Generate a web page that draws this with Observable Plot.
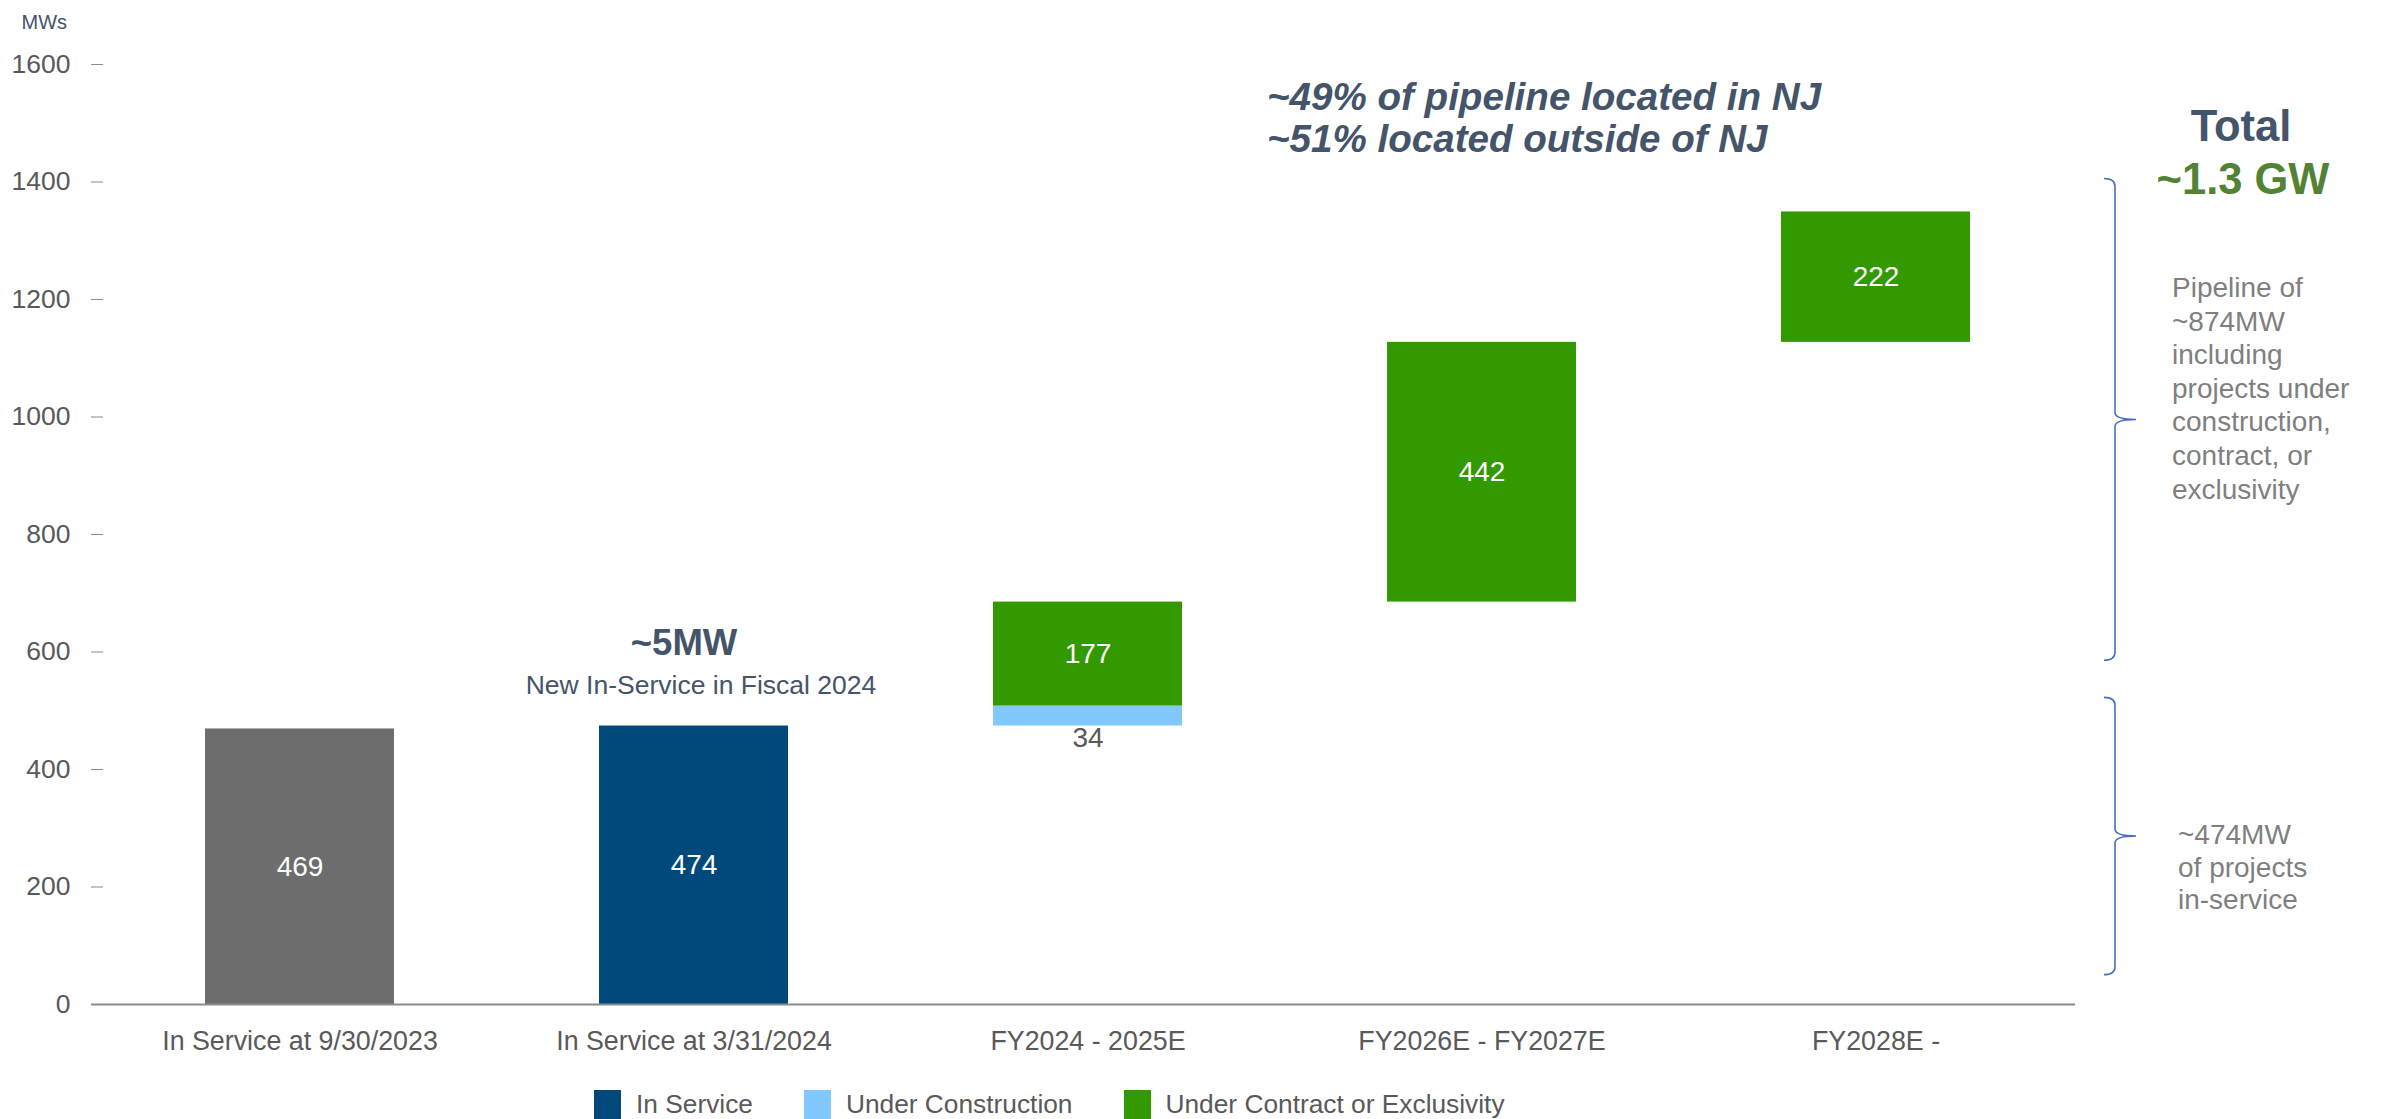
<!DOCTYPE html>
<html>
<head>
<meta charset="utf-8">
<script src="https://cdn.jsdelivr.net/npm/d3@7"></script>
<script src="https://cdn.jsdelivr.net/npm/@observablehq/plot@0.6"></script>
<style>
  body { margin: 0; background: #fff; font-family: "Liberation Sans", Arial, sans-serif; }
  #wrap { position: relative; width: 2382px; height: 1119px; overflow: hidden; background: #fff; }
  #chart svg [aria-label="y-axis tick"] { stroke: #8c8c8c; }
  #legend { position: absolute; left: 594px; top: 1089px; display: flex; align-items: center;
            font-size: 26.3px; color: #595959; white-space: nowrap; }
  #legend .item { display: flex; align-items: center; margin-right: 51px; }
  #legend .sw { width: 27px; height: 30px; margin-right: 15px; }
</style>
</head>
<body>
<div id="wrap">
  <div id="chart"></div>
  <div id="legend"></div>
</div>
<script>
// ---------- data ----------
const categories = ["In Service at 9/30/2023", "In Service at 3/31/2024", "FY2024 - 2025E", "FY2026E - FY2027E", "FY2028E -"];
const priorInService    = [469, 0, 0, 0, 0];
const inService         = [0, 474, 0, 0, 0];
const underConstruction = [0, 0, 34, 0, 0];
const underContract     = [0, 0, 177, 442, 222];
const seriesNames  = ["In Service (prior)", "In Service", "Under Construction", "Under Contract or Exclusivity"];
const seriesColors = ["#6d6d6d", "#02497b", "#80c8ff", "#339900"];
const legendNames  = ["In Service", "Under Construction", "Under Contract or Exclusivity"];
const yTicks = [0, 200, 400, 600, 800, 1000, 1200, 1400, 1600];
const noteLines = ["~49% of pipeline located in NJ", "~51% located outside of NJ"];
const newInServiceText = "New In-Service in Fiscal 2024";
const totalLines = ["Total", "~1.3 GW"];
const pipelineNote = ["Pipeline of", "~874MW", "including", "projects under", "construction,", "contract, or", "exclusivity"];
const inServiceNote = ["~474MW", "of projects", "in-service"];
const brackets = [{lo: 585, hi: 1405}, {lo: 50, hi: 522}];

// ---------- waterfall segments ----------
const segs = [];
let running = 0;
categories.forEach((c, i) => {
  const vals = [priorInService[i], inService[i], underConstruction[i], underContract[i]];
  let base = (vals[0] || vals[1]) ? 0 : running;
  vals.forEach((v, k) => {
    if (v > 0) { segs.push({cat: c, series: seriesNames[k], y1: base, y2: base + v, value: v}); base += v; }
  });
  running = base;
});
const inside = segs.filter(d => d.series !== "Under Construction");
const below = segs.filter(d => d.series === "Under Construction");
const newMW = inService[1] - priorInService[0];

const slate = "#44546a";

const bracketMark = (index, scales, values, dims) => {
  const g = d3.create("svg:g");
  const xr = dims.width - dims.marginRight;
  const xv = xr + 40, xs = xr + 29, xp = xr + 61;
  for (const b of brackets) {
    const t = scales.y(b.hi), bt = scales.y(b.lo), m = (t + bt) / 2;
    const p = d3.path();
    p.moveTo(xs, t);
    p.quadraticCurveTo(xv, t, xv, t + 8);
    p.lineTo(xv, m - 7);
    p.quadraticCurveTo(xv, m, xp, m);
    p.quadraticCurveTo(xv, m, xv, m + 7);
    p.lineTo(xv, bt - 8);
    p.quadraticCurveTo(xv, bt, xs, bt);
    g.append("path").attr("d", p.toString()).attr("fill", "none")
      .attr("stroke", "#4a6ebd").attr("stroke-width", 1.6);
  }
  return g.node();
};

const chart = Plot.plot({
  width: 2382,
  height: 1080,
  marginLeft: 91,
  marginRight: 307,
  marginTop: 64,
  marginBottom: 76,
  style: {fontFamily: '"Liberation Sans", Arial, sans-serif', fontSize: "26px", background: "#fff"},
  x: {type: "band", domain: categories, paddingInner: 0.52, paddingOuter: 0.276, align: 0.523, label: null},
  y: {domain: [0, 1600], label: null},
  color: {domain: seriesNames, range: seriesColors},
  marks: [
    Plot.axisY({ticks: yTicks, tickSize: -12, tickPadding: 33, tickFormat: d => String(d), color: "#595959", fontSize: 26.5, label: null}),
    Plot.axisX({tickSize: 0, tickPadding: 26, color: "#595959", fontSize: 26.8, label: null}),
    Plot.barY(segs, {x: "cat", y1: "y1", y2: "y2", fill: "series"}),
    Plot.ruleY([0], {stroke: "#8c8c8c", strokeWidth: 2}),
    Plot.text(inside, {x: "cat", y: d => (d.y1 + d.y2) / 2, text: d => String(d.value), fill: "white", fontSize: 28}),
    Plot.text(below, {x: "cat", y: "y1", text: d => String(d.value), lineAnchor: "top", dy: 1, fill: "#595959", fontSize: 28}),
    Plot.text(["MWs"], {frameAnchor: "top-left", dx: -70, dy: -50, textAnchor: "start", fill: slate, fontSize: 20}),
    Plot.text([{t: `~${newMW}MW`, x: categories[1], y: 614}], {x: "x", y: "y", text: "t", dx: -10, fontSize: 36.5, fontWeight: "bold", fill: slate}),
    Plot.text([{t: newInServiceText, x: categories[1], y: 543}], {x: "x", y: "y", text: "t", dx: 7, fontSize: 26.5, fill: slate}),
    Plot.text([{t: noteLines.join("\n"), x: categories[3], y: 1510}], {x: "x", y: "y", text: "t", dx: -215, textAnchor: "start", lineHeight: 1.1, fontSize: 38.6, fontWeight: "bold", fontStyle: "italic", fill: slate}),
    Plot.text([{t: totalLines[0], x: categories[4], y: 1494}], {x: "x", y: "y", text: "t", dx: 365, fontSize: 43.5, fontWeight: "bold", fill: slate}),
    Plot.text([{t: totalLines[1], x: categories[4], y: 1404}], {x: "x", y: "y", text: "t", dx: 367, fontSize: 43.5, fontWeight: "bold", fill: "#548235"}),
    Plot.text([{t: pipelineNote.join("\n"), x: categories[4], y: 1051}], {x: "x", y: "y", text: "t", dx: 296, textAnchor: "start", lineHeight: 1.2, fontSize: 28, fill: "#7f7f7f"}),
    Plot.text([{t: inServiceNote.join("\n"), x: categories[4], y: 235}], {x: "x", y: "y", text: "t", dx: 302, textAnchor: "start", lineHeight: 1.16, fontSize: 28, fill: "#7f7f7f"}),
    bracketMark
  ]
});
document.getElementById("chart").appendChild(chart);

// ---------- legend ----------
const legend = document.getElementById("legend");
legendNames.forEach(name => {
  const k = seriesNames.indexOf(name);
  const item = document.createElement("div");
  item.className = "item";
  const sw = document.createElement("div");
  sw.className = "sw";
  sw.style.background = seriesColors[k];
  const label = document.createElement("span");
  label.textContent = name;
  item.appendChild(sw);
  item.appendChild(label);
  legend.appendChild(item);
});
</script>
</body>
</html>
